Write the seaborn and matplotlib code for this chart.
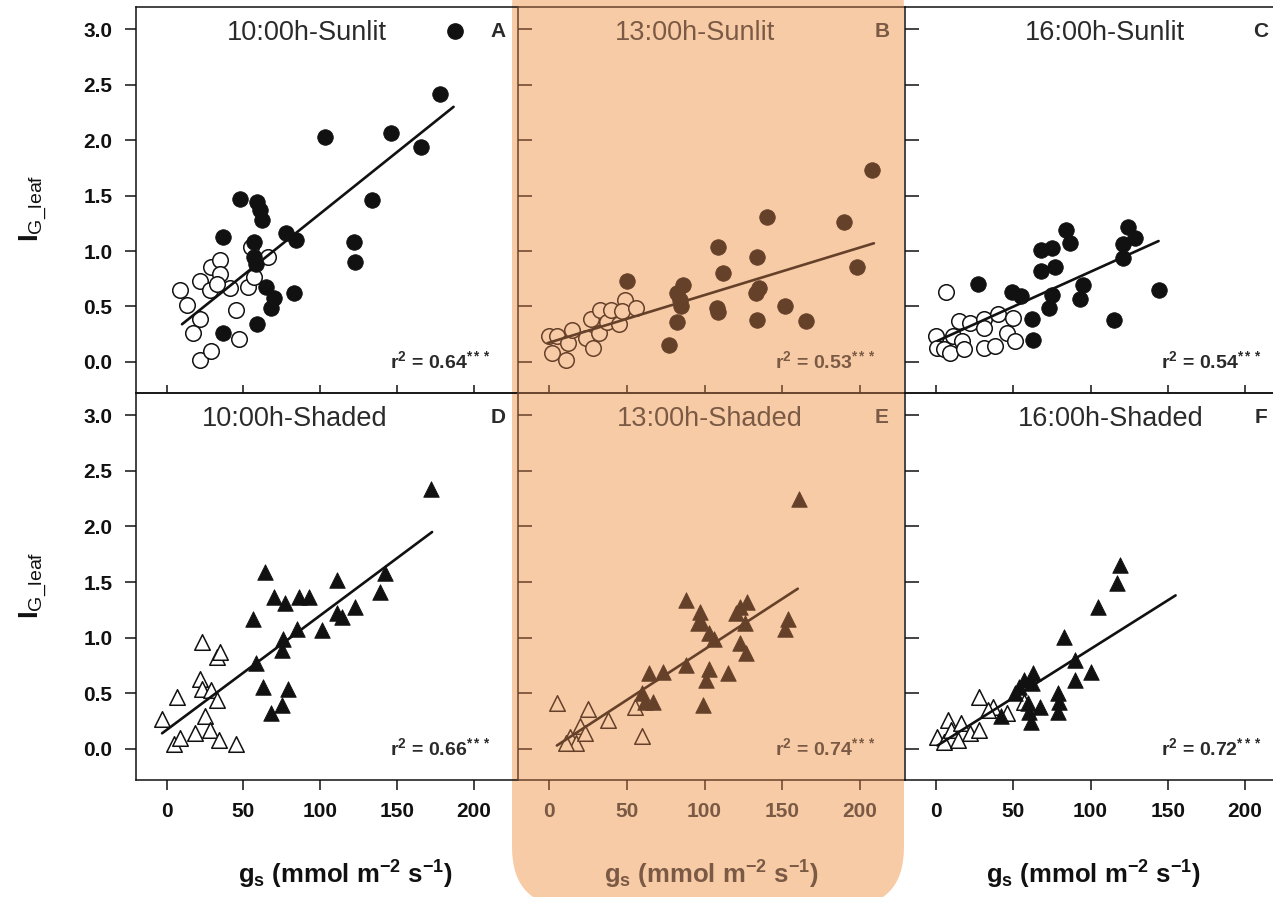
import matplotlib
matplotlib.use("Agg")
import matplotlib.pyplot as plt
import seaborn as sns
import pandas as pd
from matplotlib.patches import FancyBboxPatch
from matplotlib.lines import Line2D

# ---------------- data ----------------
A_open_x = [9, 13, 22, 17, 22, 29, 47, 45, 22, 28, 29, 35, 35, 41, 53, 57, 55, 66, 33]
A_open_y = [0.65, 0.51, 0.39, 0.26, 0.02, 0.10, 0.21, 0.47, 0.73, 0.65, 0.86, 0.92, 0.79, 0.67, 0.68, 0.77, 1.04, 0.95, 0.70]
A_fill_x = [178, 146, 103, 166, 134, 48, 59, 61, 62, 37, 78, 84, 122, 123, 57, 57, 58, 65, 70, 68, 83, 37, 59]
A_fill_y = [2.42, 2.06, 2.03, 1.94, 1.46, 1.47, 1.44, 1.37, 1.28, 1.13, 1.16, 1.10, 1.08, 0.90, 1.08, 0.95, 0.88, 0.68, 0.58, 0.49, 0.62, 0.26, 0.34]
A_fit_x = [10, 187]
A_fit_y = [0.34, 2.30]

B_open_x = [0, 5, 2, 11, 12, 15, 24, 28, 32, 27, 33, 37, 40, 45, 49, 47, 56]
B_open_y = [0.23, 0.23, 0.08, 0.02, 0.17, 0.29, 0.22, 0.13, 0.26, 0.39, 0.47, 0.36, 0.47, 0.34, 0.56, 0.46, 0.49]
B_fill_x = [208, 140, 190, 109, 134, 198, 112, 135, 133, 50, 86, 82, 84, 85, 108, 109, 152, 82, 134, 165, 77]
B_fill_y = [1.73, 1.31, 1.26, 1.04, 0.95, 0.86, 0.80, 0.67, 0.62, 0.73, 0.69, 0.62, 0.56, 0.50, 0.49, 0.45, 0.50, 0.36, 0.38, 0.37, 0.15]
B_fit_x = [-1, 209]
B_fit_y = [0.17, 1.07]

C_open_x = [6.5, 0, 0.6, 5, 9, 11, 17, 18, 15, 22, 31, 31, 38, 40, 46, 51, 50, 31]
C_open_y = [0.63, 0.23, 0.13, 0.12, 0.08, 0.23, 0.19, 0.12, 0.37, 0.35, 0.39, 0.13, 0.14, 0.43, 0.26, 0.19, 0.40, 0.31]
C_fill_x = [124, 129, 121, 121, 84, 87, 68, 75, 68, 77, 27, 49, 55, 95, 93, 75, 73, 62, 63, 115, 144]
C_fill_y = [1.22, 1.12, 1.06, 0.94, 1.19, 1.07, 1.01, 1.03, 0.82, 0.86, 0.70, 0.63, 0.59, 0.69, 0.57, 0.60, 0.49, 0.39, 0.20, 0.38, 0.65]
C_fit_x = [1, 144]
C_fit_y = [0.19, 1.09]

D_open_x = [-3, 7, 5, 9, 18.5, 23, 32.5, 35, 22, 23, 29, 33, 25, 28, 34, 45]
D_open_y = [0.27, 0.47, 0.04, 0.10, 0.14, 0.96, 0.83, 0.87, 0.63, 0.54, 0.53, 0.44, 0.30, 0.17, 0.08, 0.04]
D_fill_x = [172, 64, 56, 70, 77, 86, 93, 111, 142, 139, 123, 111, 114, 101.5, 85, 76, 75, 58, 63, 79, 68, 75]
D_fill_y = [2.34, 1.59, 1.17, 1.37, 1.31, 1.37, 1.37, 1.52, 1.58, 1.41, 1.28, 1.22, 1.19, 1.07, 1.08, 0.99, 0.89, 0.77, 0.56, 0.54, 0.32, 0.39]
D_fit_x = [-3, 173]
D_fit_y = [0.14, 1.95]

E_open_x = [5, 25, 20, 13.5, 17, 23, 38, 55, 60, 11]
E_open_y = [0.41, 0.36, 0.21, 0.11, 0.05, 0.14, 0.26, 0.38, 0.12, 0.05]
E_fill_x = [161, 88, 97, 98, 96, 103, 106, 123, 127.5, 120, 126, 154, 152, 123, 127, 88, 103, 101, 115, 73.5, 64.5, 60, 67, 62, 99]
E_fill_y = [2.25, 1.34, 1.23, 1.14, 1.13, 1.04, 0.99, 1.28, 1.32, 1.22, 1.13, 1.17, 1.08, 0.95, 0.86, 0.75, 0.72, 0.62, 0.68, 0.69, 0.68, 0.50, 0.42, 0.42, 0.39]
E_fit_x = [5, 160]
E_fit_y = [0.03, 1.44]

F_open_x = [28, 37, 46, 57, 7.6, 1, 5, 10, 16, 22, 28, 14, 33.5]
F_open_y = [0.47, 0.38, 0.32, 0.42, 0.26, 0.11, 0.06, 0.17, 0.23, 0.14, 0.17, 0.08, 0.35]
F_fill_x = [119, 117, 105, 83, 90, 100.5, 90, 63, 57, 54, 51, 62, 79, 79.5, 79, 67, 60.5, 61.6, 42, 59.5]
F_fill_y = [1.65, 1.49, 1.28, 1.01, 0.80, 0.69, 0.62, 0.68, 0.62, 0.56, 0.50, 0.59, 0.50, 0.42, 0.33, 0.38, 0.33, 0.24, 0.30, 0.41]
F_fit_x = [1, 155]
F_fit_y = [0.03, 1.38]

titles = ["10:00h-Sunlit", "13:00h-Sunlit", "16:00h-Sunlit",
          "10:00h-Shaded", "13:00h-Shaded", "16:00h-Shaded"]
letters = ["A", "B", "C", "D", "E", "F"]
r2_values = ["0.64", "0.53", "0.54", "0.66", "0.74", "0.72"]
x_ticks = [0, 50, 100, 150, 200]
x_tick_labels = ["0", "50", "100", "150", "200"]
y_ticks = [0.0, 0.5, 1.0, 1.5, 2.0, 2.5, 3.0]
y_tick_labels = ["0.0", "0.5", "1.0", "1.5", "2.0", "2.5", "3.0"]

panels = [
    (A_open_x, A_open_y, A_fill_x, A_fill_y, A_fit_x, A_fit_y),
    (B_open_x, B_open_y, B_fill_x, B_fill_y, B_fit_x, B_fit_y),
    (C_open_x, C_open_y, C_fill_x, C_fill_y, C_fit_x, C_fit_y),
    (D_open_x, D_open_y, D_fill_x, D_fill_y, D_fit_x, D_fit_y),
    (E_open_x, E_open_y, E_fill_x, E_fill_y, E_fit_x, E_fit_y),
    (F_open_x, F_open_y, F_fill_x, F_fill_y, F_fit_x, F_fit_y),
]

# ---------------- style ----------------
sns.set_theme(style="ticks")
plt.rcParams["font.family"] = ["Liberation Sans", "DejaVu Sans"]
plt.rcParams["mathtext.fontset"] = "custom"
plt.rcParams["mathtext.rm"] = "Liberation Sans"
plt.rcParams["mathtext.bf"] = "Liberation Sans:bold"
plt.rcParams["mathtext.it"] = "Liberation Sans:italic"

ORANGE = "#F8CBA7"
BROWN = "#66412A"
BROWN_TXT = "#7A5A44"
DARK = "#111111"
TITLE_DARK = "#2a2a2a"

W, H = 1273, 897
fig = plt.figure(figsize=(W / 100, H / 100), dpi=100)
fig.patch.set_facecolor("white")

# highlighted middle column (rounded bottom corners)
hl = FancyBboxPatch((5.12, -0.10), 3.92, 9.6,
                    boxstyle="round,pad=0,rounding_size=0.6",
                    transform=fig.dpi_scale_trans, facecolor=ORANGE,
                    edgecolor="none", zorder=-5)
fig.add_artist(hl)

col_left = [136, 518, 905]
col_width = [382, 387, 385]
row_top = [7, 393]
row_height = [386, 387]

title_xc = [0.448, 0.458, 0.519, 0.416, 0.495, 0.535]
letter_xc = [0.947, 0.940, 0.925]
xlabel_xc = [0.547, 0.50, 0.49]

for i, (ox, oy, fx, fy, lx, ly) in enumerate(panels):
    r, c = divmod(i, 3)
    l = col_left[c] / W
    b = 1 - (row_top[r] + row_height[r]) / H
    ax = fig.add_axes([l, b, col_width[c] / W, row_height[r] / H])
    ax.set_facecolor("none")
    mid = (c == 1)
    ink = BROWN if mid else DARK
    txt = BROWN_TXT if mid else TITLE_DARK
    open_face = ORANGE if mid else "white"
    marker = "o" if r == 0 else "^"

    d_open = pd.DataFrame({"gs": ox, "ig": oy})
    d_fill = pd.DataFrame({"gs": fx, "ig": fy})
    d_fit = pd.DataFrame({"gs": lx, "ig": ly})

    sns.scatterplot(data=d_open, x="gs", y="ig", ax=ax, marker=marker, s=125,
                    color=open_face, edgecolor=ink, linewidth=1.1, zorder=2,
                    legend=False)
    sns.lineplot(data=d_fit, x="gs", y="ig", ax=ax, color=ink, linewidth=1.9,
                 zorder=3, legend=False)
    sns.scatterplot(data=d_fill, x="gs", y="ig", ax=ax, marker=marker, s=125,
                    color=ink, edgecolor=ink, linewidth=0.6, zorder=4,
                    legend=False)

    ax.set_xlim(-20, 229)
    ax.set_ylim(-0.28, 3.2)
    ax.set_xlabel("")
    ax.set_ylabel("")

    for side in ["top", "bottom", "left", "right"]:
        ax.spines[side].set_color(ink)
        ax.spines[side].set_linewidth(1.1)
    if c < 2:
        ax.spines["right"].set_visible(False)

    # y axis
    if c == 0:
        ax.set_yticks(y_ticks, labels=y_tick_labels, fontweight="bold",
                      fontsize=15)
        ax.tick_params(axis="y", direction="out", length=8, width=1.1,
                       pad=9, color=ink, labelcolor=DARK)
    else:
        ax.set_yticks(y_ticks)
        ax.tick_params(axis="y", direction="in", length=10, width=1.1,
                       labelleft=False, color=ink)
    # x axis
    if r == 0:
        ax.set_xticks(x_ticks)
        ax.tick_params(axis="x", direction="in", length=6, width=1.1,
                       labelbottom=False, color=ink)
    else:
        ax.set_xticks(x_ticks, labels=x_tick_labels, fontweight="bold",
                      fontsize=15)
        ax.tick_params(axis="x", direction="out", length=7, width=1.1,
                       pad=9, color=ink, labelcolor=(BROWN_TXT if mid else DARK))
        ax.text(xlabel_xc[c], -0.245,
                r"$\mathbf{g_s\ (mmol\ m^{-2}\ s^{-1})}$",
                transform=ax.transAxes, ha="center", va="center",
                fontsize=18.5, color=(BROWN_TXT if mid else DARK))

    ax.text(title_xc[i], 0.932, titles[i], transform=ax.transAxes,
            ha="center", va="center", fontsize=19.5, color=txt)
    ax.text(letter_xc[c], 0.937, letters[i], transform=ax.transAxes,
            ha="center", va="center", fontsize=15, fontweight="bold",
            color=txt)
    ax.text(0.665, 0.083,
            r"r$^{\mathbf{2}}$ = " + r2_values[i] + r"$^{\mathbf{***}}$",
            transform=ax.transAxes, ha="left", va="center", fontsize=14,
            fontweight="bold", color=txt)

    if i == 0:
        h = Line2D([], [], marker="o", ls="", color=DARK, markersize=11)
        ax.legend(handles=[h], labels=[""], loc="center",
                  bbox_to_anchor=(0.835, 0.935), frameon=False,
                  handlelength=0.8, handletextpad=0.0, borderpad=0.0)

# y-axis labels
for yc in [208, 585]:
    fig.text(33 / W, 1 - yc / H, r"$\mathbf{I}_{\mathrm{G\_leaf}}$",
             rotation=90, ha="center", va="center", fontsize=20, color=DARK)

fig.savefig("out.png", dpi=100)
